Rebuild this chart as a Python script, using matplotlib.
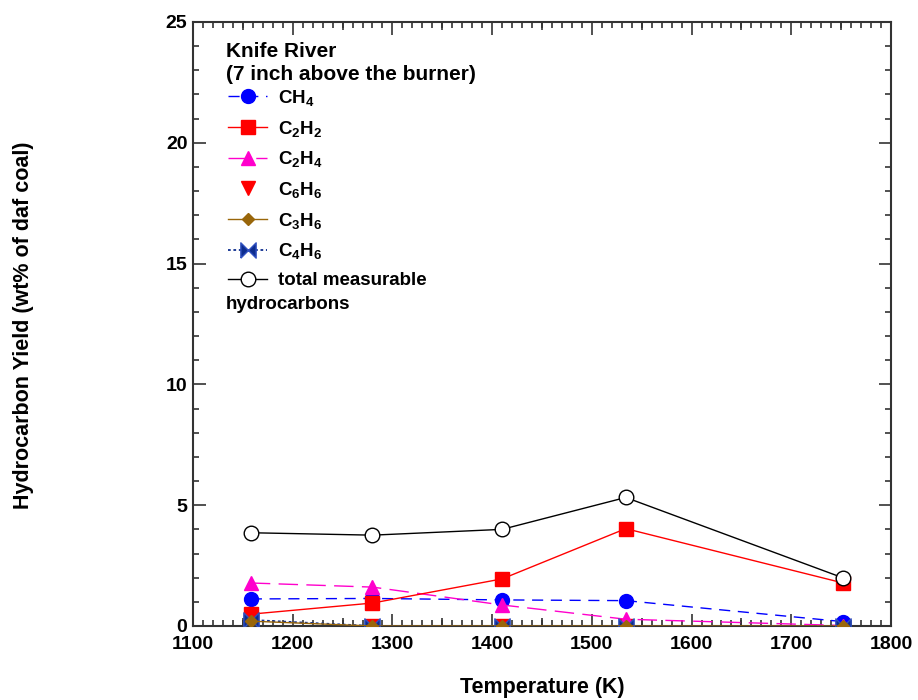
import matplotlib
matplotlib.use("Agg")
import matplotlib.pyplot as plt
from matplotlib.ticker import MultipleLocator

plt.rcParams['font.family'] = ['Liberation Sans', 'DejaVu Sans']
plt.rcParams['font.weight'] = 'bold'
plt.rcParams['mathtext.fontset'] = 'custom'
plt.rcParams['mathtext.rm'] = 'Liberation Sans:bold'
plt.rcParams['mathtext.it'] = 'Liberation Sans:bold'
plt.rcParams['mathtext.bf'] = 'Liberation Sans:bold'
plt.rcParams['mathtext.default'] = 'rm'

# Data
temperature = [1158, 1280, 1410, 1534, 1752]
ch4 = [1.12, 1.14, 1.08, 1.05, 0.18]
c2h2 = [0.49, 0.95, 1.95, 4.03, 1.78]
c2h4 = [1.78, 1.61, 0.87, 0.28, 0.02]
c6h6 = [0.0, 0.0, 0.0, 0.0, 0.0]
c3h6 = [0.2, 0.0, 0.0, 0.0, 0.0]
c4h6 = [0.25, 0.0, 0.0, 0.0, 0.0]
total = [3.86, 3.76, 4.0, 5.32, 1.99]

FS_TICK = 14
FS_LABEL = 15.5
FS_TITLE = 15
FS_LEG = 13.5

fig = plt.figure(figsize=(9.18, 7), dpi=100)
ax = fig.add_axes([193/918, 1-626/700, (891-193)/918, (626-22)/700])

bowtie = [(-1, -1), (1, 1), (1, -1), (-1, 1), (-1, -1)]

l1, = ax.plot(temperature, ch4, color='blue', ls=(0, (8, 5.5)), lw=1, marker='o', ms=10,
              label='CH$_4$', zorder=3)
l2, = ax.plot(temperature, c2h2, color='red', ls='-', lw=1, marker='s', ms=10,
              label='C$_2$H$_2$', zorder=4)
l3, = ax.plot(temperature, c2h4, color='#ff00cc', ls=(0, (14, 6)), lw=1, marker='^', ms=10.5,
              label='C$_2$H$_4$', zorder=3)
l4, = ax.plot(temperature, c6h6, color='red', ls='none', marker='v', ms=10.5,
              label='C$_6$H$_6$', zorder=2)
l5, = ax.plot(temperature, c3h6, color='#99660a', ls='-', lw=1, marker='D', ms=6.5,
              label='C$_3$H$_6$', zorder=6)
l6, = ax.plot(temperature, c4h6, color='#0d2d8f', ls=(0, (1.5, 1.5)), lw=1.3, marker=bowtie, ms=11,
              mec='#3050c0', label='C$_4$H$_6$', zorder=5)
l7, = ax.plot(temperature, total, color='black', ls='-', lw=1, marker='o', ms=10.5,
              mfc='white', mec='black', label='total measurable', zorder=4)

ax.set_xlim(1100, 1800)
ax.set_ylim(0, 25)
ax.xaxis.set_major_locator(MultipleLocator(100))
ax.xaxis.set_minor_locator(MultipleLocator(10))
ax.yaxis.set_major_locator(MultipleLocator(5))
ax.yaxis.set_minor_locator(MultipleLocator(1))
ax.tick_params(which='both', direction='in', top=True, right=True, colors='#333333',
               labelcolor='black', labelsize=FS_TICK, width=1.2)
ax.tick_params(which='major', length=9)
ax.tick_params(axis='x', which='major', pad=7)
ax.tick_params(axis='y', which='major', pad=4)
ax.tick_params(which='minor', length=4)
for lab in ax.get_xticklabels() + ax.get_yticklabels():
    lab.set_fontweight('bold')
for s in ax.spines.values():
    s.set_linewidth(1.5)
    s.set_color('#333333')

# medium ticks at 50s
for side in ['bottom', 'top']:
    sec = ax.secondary_xaxis(side)
    sec.set_xticks([1150, 1250, 1350, 1450, 1550, 1650, 1750])
    sec.tick_params(direction='in', length=6, width=1.2, colors='#333333', labelbottom=False,
                    labeltop=False)
    sec.spines[side].set_visible(False)

ax.set_xlabel('Temperature (K)', fontsize=FS_LABEL, fontweight='bold')
ax.set_ylabel('Hydrocarbon Yield (wt% of daf coal)', fontsize=FS_LABEL, fontweight='bold')
ax.xaxis.set_label_coords(0.5, -0.085)
ax.yaxis.set_label_coords(-0.228, 0.498)

ax.text(0.047, 0.967, 'Knife River\n(7 inch above the burner)', transform=ax.transAxes,
        fontsize=FS_TITLE, fontweight='bold', ha='left', va='top', linespacing=1.3)

leg = ax.legend(handles=[l1, l2, l3, l4, l5, l6, l7],
                loc='upper left', bbox_to_anchor=(0.05, 0.891), frameon=False,
                prop={'size': FS_LEG, 'weight': 'bold'},
                numpoints=1, handlelength=2.1, handletextpad=0.55, labelspacing=0.57,
                borderpad=0, borderaxespad=0)
ax.text(0.047, 0.533, 'hydrocarbons', transform=ax.transAxes, fontsize=FS_LEG,
        fontweight='bold', ha='left', va='center')

fig.savefig('out.png', dpi=100)
